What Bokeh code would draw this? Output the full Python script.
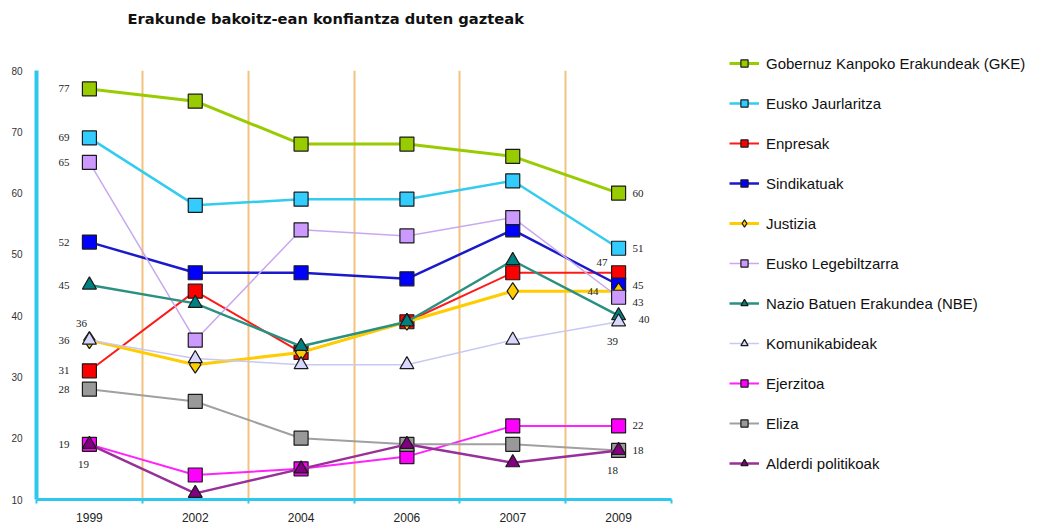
from bokeh.plotting import figure
from bokeh.models import ColumnDataSource, FixedTicker, Legend, LegendItem, Title
from bokeh.embed import file_html
from bokeh.resources import INLINE
from bokeh.core.properties import value

# ---------------- data ----------------
years = ["1999", "2002", "2004", "2006", "2007", "2009"]
y_ticks = [10, 20, 30, 40, 50, 60, 70, 80]
title_text = "Erakunde bakoitz-ean konfiantza duten gazteak"

names = [
    "Gobernuz Kanpoko Erakundeak (GKE)",
    "Eusko Jaurlaritza",
    "Enpresak",
    "Sindikatuak",
    "Justizia",
    "Eusko Legebiltzarra",
    "Nazio Batuen Erakundea (NBE)",
    "Komunikabideak",
    "Ejerzitoa",
    "Eliza",
    "Alderdi politikoak",
]
gke = [77, 75, 68, 68, 66, 60]
eusko_jaurlaritza = [69, 58, 59, 59, 62, 51]
enpresak = [31, 44, 34, 39, 47, 47]
sindikatuak = [52, 47, 47, 46, 54, 45]
justizia = [36, 32, 34, 39, 44, 44]
legebiltzarra = [65, 36, 54, 53, 56, 43]
nbe = [45, 42, 35, 39, 49, 40]
komunikabideak = [36, 33, 32, 32, 36, 39]
ejerzitoa = [19, 14, 15, 17, 22, 22]
eliza = [28, 26, 20, 19, 19, 18]
alderdi = [19, 11, 15, 19, 16, 18]

series = [gke, eusko_jaurlaritza, enpresak, sindikatuak, justizia, legebiltzarra,
          nbe, komunikabideak, ejerzitoa, eliza, alderdi]

# ---------------- styles ----------------
# (line colour, fill colour, line width, marker, marker size, first-label pos, last-label pos)
styles = [
    ("#99cc00", "#99cc00", 3.0, "square", 14, "left", "right"),
    ("#33ccee", "#33ccff", 2.5, "square", 14, "left", "right"),
    ("#ff1a1a", "#ff0000", 2.0, "square", 14, "left", "aboveleft"),
    ("#1a1acc", "#0000ff", 2.5, "square", 14, "left", "right"),
    ("#ffcc00", "#ffcc00", 3.0, "diamond", 17, "above", "left"),
    ("#c8a8f0", "#cc99ff", 1.5, "square", 14, "left", "right_low"),
    ("#2a9080", "#008080", 2.5, "triangle", 14, "left", "right_low2"),
    ("#c8c8f4", "#d8d8ff", 1.5, "triangle", 14, "left", "below"),
    ("#ff22ff", "#ff00ff", 2.0, "square", 14, "left", "right"),
    ("#a0a0a0", "#999999", 2.0, "square", 14, "left", "right"),
    ("#992f99", "#800080", 2.5, "triangle", 14, "below", "below"),
]

# label placement: (x_offset, y_offset, align, baseline)
placements = {
    "left": (-20, 0, "right", "middle"),
    "right": (14, 0, "left", "middle"),
    "right_low": (14, 5, "left", "middle"),
    "right_low2": (20, 4, "left", "middle"),
    "above": (-8, -17, "center", "middle"),
    "below": (-6, 20, "center", "middle"),
    "aboveleft": (-11, -10, "right", "middle"),
}

W, H = 1022, 512
LEFT, TOP, FW, FH = 36, 70, 635, 429
p = figure(width=W, height=H, frame_width=FW, frame_height=FH,
           x_range=(-0.5, len(years) - 0.5), y_range=(y_ticks[0], y_ticks[-1]),
           output_backend="svg", toolbar_location=None,
           min_border_left=LEFT, min_border_right=W - LEFT - FW,
           min_border_top=TOP, min_border_bottom=H - TOP - FH)
p.outline_line_color = None
p.background_fill_color = "white"

# title, with an empty spacer panel between it and the plot frame
p.title.text = title_text
p.title.text_font = "DejaVu Sans"
p.title.text_font_size = "14.7px"
p.title.text_font_style = "bold"
p.title.text_color = "#111111"
p.title.align = "left"
p.title.offset = 91
p.title.standoff = 8
p.add_layout(Title(text=" ", text_font_size="14px", standoff=22), "above")

# grids
p.ygrid.grid_line_color = None
p.xgrid.ticker = FixedTicker(ticks=[i + 0.5 for i in range(len(years))])
p.xgrid.grid_line_color = "#f2c27e"
p.xgrid.grid_line_width = 2

# x axis
idx = list(range(len(years)))
p.xaxis.ticker = FixedTicker(ticks=idx, minor_ticks=[i - 0.5 for i in range(len(years) + 1)])
p.xaxis.major_label_overrides = {i: y for i, y in enumerate(years)}
p.xaxis.axis_line_color = "#2ec8ee"
p.xaxis.axis_line_width = 3
p.xaxis.major_tick_line_color = None
p.xaxis.minor_tick_line_color = "#2ec8ee"
p.xaxis.minor_tick_line_width = 2
p.xaxis.minor_tick_out = 4
p.xaxis.minor_tick_in = 0
p.xaxis.major_label_standoff = 7
p.xaxis.major_label_text_font = "Liberation Sans"
p.xaxis.major_label_text_font_size = "12px"
p.xaxis.major_label_text_color = "#222222"

# y axis
p.yaxis.ticker = FixedTicker(ticks=y_ticks)
p.yaxis.axis_line_color = "#2ec8ee"
p.yaxis.axis_line_width = 4
p.yaxis.major_tick_line_color = None
p.yaxis.minor_tick_line_color = None
p.yaxis.major_label_standoff = 8
p.yaxis.major_label_text_font = "Liberation Sans"
p.yaxis.major_label_text_font_size = "10px"
p.yaxis.major_label_text_color = "#333333"

items = []
for name, vals, st in zip(names, series, styles):
    lc, fc, lw, mk, ms, _, _ = st
    src = ColumnDataSource(dict(x=idx, y=vals))
    r_line = p.line("x", "y", source=src, line_color=lc, line_width=lw)
    r_mark = p.scatter("x", "y", source=src, marker=mk, size=ms,
                       fill_color=fc, line_color="#1a1a1a", line_width=1.2)
    items.append(LegendItem(label=name, renderers=[r_line, r_mark]))

# value labels at first and last year
groups = {}
for vals, st in zip(series, styles):
    for pos_i, key in ((0, st[5]), (len(years) - 1, st[6])):
        xo, yo, al, bl = placements[key]
        g = groups.setdefault((al, bl), dict(x=[], y=[], t=[], xo=[], yo=[]))
        g["x"].append(idx[pos_i])
        g["y"].append(vals[pos_i])
        g["t"].append(str(vals[pos_i]))
        g["xo"].append(xo)
        g["yo"].append(yo)
for (al, bl), g in groups.items():
    p.text(x="x", y="y", text="t", x_offset="xo", y_offset="yo",
           source=ColumnDataSource(g), text_align=al, text_baseline=bl,
           text_font=value("Liberation Serif"), text_font_size="11px",
           text_color="#222222")

legend = Legend(items=items, location=(58, 27))
legend.background_fill_alpha = 0
legend.border_line_color = None
legend.padding = 0
legend.margin = 0
legend.spacing = 22
legend.glyph_width = 30
legend.glyph_height = 18
legend.label_height = 18
legend.label_standoff = 7
legend.label_text_font = "Liberation Sans"
legend.label_text_font_size = "15px"
legend.label_text_color = "#111111"
p.add_layout(legend, "right")

open("out.html", "w").write(file_html(p, INLINE))
